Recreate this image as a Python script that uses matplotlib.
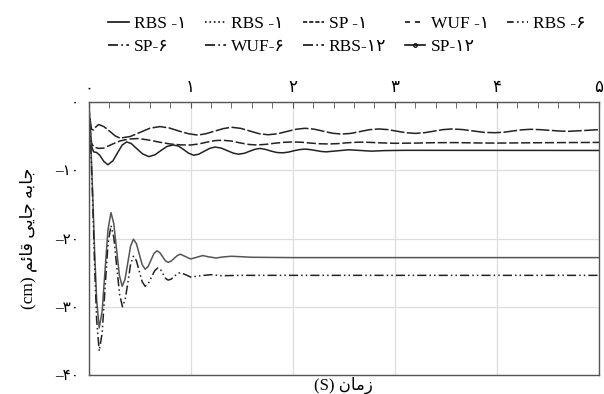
import matplotlib
matplotlib.use("Agg")
import matplotlib.pyplot as plt
from matplotlib.lines import Line2D
from matplotlib.ticker import MultipleLocator

plt.rcParams['font.family'] = ['Liberation Serif', 'DejaVu Sans']

# ---- data ----
t_wuf1 = [0, 0.015, 0.03, 0.05, 0.075, 0.1, 0.15, 0.205, 0.26, 0.31, 0.41, 0.505, 0.6, 0.70,
          0.79, 0.885, 0.98, 1.07, 1.15, 1.235, 1.32, 1.40, 1.49, 1.58, 1.67, 1.76, 1.85, 1.94,
          2.03, 2.12, 2.21, 2.30, 2.39, 2.48, 2.57, 2.66, 2.75, 2.84, 2.93, 3.02, 3.11, 3.2,
          3.29, 3.38, 3.47, 3.56, 3.665, 3.77, 3.875, 3.98, 4.07, 4.155, 4.24, 4.33, 4.42,
          4.515, 4.61, 4.7, 4.85, 5.0]
y_wuf1 = [0, -2.5, -4.0, -4.1, -3.6, -3.3, -3.6, -4.25, -4.95, -5.3, -5.05, -4.45, -3.85, -3.6,
          -3.8, -4.25, -4.65, -4.85, -4.65, -4.27, -3.9, -3.7, -3.86, -4.25, -4.64, -4.8, -4.66,
          -4.33, -4.0, -3.85, -3.98, -4.28, -4.58, -4.7, -4.6, -4.33, -4.06, -3.95, -4.04, -4.28,
          -4.5, -4.6, -4.5, -4.28, -4.05, -3.95, -4.04, -4.25, -4.45, -4.5, -4.43, -4.25, -4.08,
          -4.0, -4.05, -4.15, -4.25, -4.3, -4.18, -4.05]

t_sp1 = [0, 0.015, 0.03, 0.05, 0.1, 0.15, 0.23, 0.31, 0.4, 0.49, 0.6, 0.7, 0.8, 0.9, 1.0,
         1.08, 1.16, 1.24, 1.31, 1.4, 1.48, 1.57, 1.65, 1.74, 1.83, 1.92, 2.0, 2.09, 2.18,
         2.27, 2.35, 2.44, 2.53, 2.62, 2.7, 2.85, 3.0, 3.2, 3.4, 3.6, 3.8, 4.0, 4.3, 4.6, 5.0]
y_sp1 = [0, -3.5, -6.0, -6.6, -6.8, -6.75, -6.2, -5.7, -5.42, -5.35, -5.6, -5.9, -6.15, -6.28,
         -6.3, -6.15, -5.88, -5.66, -5.6, -5.72, -5.98, -6.22, -6.3, -6.2, -6.03, -5.9, -5.85,
         -5.9, -6.03, -6.12, -6.15, -6.1, -5.98, -5.9, -5.88, -5.98, -6.05, -6.02, -5.96,
         -5.95, -6.0, -6.02, -5.98, -5.95, -5.92]

t_rbs1 = [0, 0.015, 0.03, 0.05, 0.08, 0.11, 0.15, 0.19, 0.24, 0.29, 0.33, 0.375, 0.42, 0.47,
          0.53, 0.59, 0.65, 0.71, 0.77, 0.83, 0.88, 0.93, 0.98, 1.03, 1.08, 1.135, 1.19, 1.24,
          1.3, 1.36, 1.42, 1.47, 1.53, 1.58, 1.63, 1.68, 1.735, 1.79, 1.845, 1.9, 1.955, 2.01,
          2.065, 2.12, 2.175, 2.23, 2.28, 2.33, 2.44, 2.55, 2.66, 2.77, 2.9, 3.1, 5.0]
y_rbs1 = [0, -3.8, -6.5, -7.3, -7.4, -7.8, -8.7, -9.2, -8.6, -7.3, -6.3, -5.85, -6.1, -6.8,
          -7.6, -8.0, -7.75, -7.1, -6.5, -6.3, -6.45, -6.95, -7.5, -7.8, -7.65, -7.2, -6.78,
          -6.6, -6.75, -7.13, -7.5, -7.65, -7.5, -7.2, -6.93, -6.8, -6.95, -7.2, -7.4, -7.45,
          -7.35, -7.15, -6.98, -6.9, -6.98, -7.12, -7.25, -7.3, -7.15, -7.0, -7.1, -7.2, -7.12,
          -7.08, -7.1]

t_sp12 = [0, 0.02, 0.04, 0.06, 0.08, 0.105, 0.134, 0.162, 0.191, 0.22, 0.2475, 0.275, 0.3025,
          0.33, 0.3575, 0.385, 0.4125, 0.44, 0.469, 0.4975, 0.526, 0.555, 0.584, 0.6125, 0.641,
          0.67, 0.6975, 0.725, 0.7525, 0.78, 0.81, 0.84, 0.87, 0.9, 0.95, 1.0, 1.06, 1.12,
          1.18, 1.25, 1.32, 1.4, 1.6, 2.0, 5.0]
y_sp12 = [0, -5.0, -13.0, -22.0, -29.0, -33.1, -30.6, -24.65, -18.7, -16.2, -17.8, -21.6,
          -25.4, -27.0, -26.0, -23.55, -21.1, -20.1, -20.75, -22.3, -23.85, -24.5, -24.1,
          -23.15, -22.2, -21.8, -22.05, -22.65, -23.25, -23.5, -23.3, -22.9, -22.5, -22.3,
          -22.65, -23.0, -22.75, -22.5, -22.7, -22.85, -22.7, -22.6, -22.75, -22.8, -22.8]

t_rbs6 = [0, 0.02, 0.04, 0.06, 0.08, 0.105, 0.134, 0.162, 0.191, 0.22, 0.248, 0.276, 0.305,
          0.333, 0.36, 0.387, 0.413, 0.44, 0.469, 0.4975, 0.526, 0.555, 0.586, 0.6175, 0.649,
          0.68, 0.705, 0.73, 0.755, 0.78, 0.81, 0.84, 0.87, 0.9, 0.95, 1.0, 1.1, 1.2, 1.3,
          1.5, 5.0]
y_rbs6 = [0, -5.5, -14.0, -24.0, -32.0, -36.5, -33.8, -27.3, -20.8, -18.1, -19.85, -24.05,
          -28.25, -30.0, -28.9, -26.3, -23.7, -22.6, -23.25, -24.8, -26.35, -27.0, -26.6,
          -25.65, -24.7, -24.3, -24.55, -25.2, -25.85, -26.1, -25.95, -25.55, -25.15, -25.0,
          -25.3, -25.65, -25.45, -25.3, -25.45, -25.4, -25.4]

labels = ['RBS -\u06f1', 'RBS -\u06f1', 'SP -\u06f1', 'WUF -\u06f1', 'RBS -\u06f6',
          'SP-\u06f6', 'WUF-\u06f6', 'RBS-\u06f1\u06f2', 'SP-\u06f1\u06f2']

x_ticks = [0, 1, 2, 3, 4, 5]
x_ticklabels = ['\u06f0', '\u06f1', '\u06f2', '\u06f3', '\u06f4', '\u06f5']
y_ticks = [0, -10, -20, -30, -40]
y_ticklabels = ['\u06f0', '\u2013\u06f1\u06f0', '\u2013\u06f2\u06f0', '\u2013\u06f3\u06f0',
                '\u2013\u06f4\u06f0']

# pre-shaped (visual order) Persian axis titles
ylabel = '(cm) \ufee2\ufe8b\ufe8e\ufed7 \ufef0\ufef3\ufe8e\ufe9f \ufeea\ufe91\ufe8e\ufe9f'
xlabel = '(S) \ufee5\ufe8e\ufee3\ufeaf'

# ---- figure ----
fig = plt.figure(figsize=(6.04, 3.94), dpi=100)
ax = fig.add_axes([88.5 / 604, 1 - 375 / 394, (599 - 88.5) / 604, (375 - 102) / 394])

ax.plot(t_wuf1, y_wuf1, color='#222222', lw=1.1, dashes=(9, 1.6))
ax.plot(t_sp1, y_sp1, color='#222222', lw=1.1, dashes=(6, 1.8))
ax.plot(t_rbs1, y_rbs1, color='#222222', lw=1.1)
ax.plot(t_sp12, y_sp12, color='#555555', lw=1.1)
ax.plot(t_rbs6, y_rbs6, color='#222222', lw=1.1, dashes=(6, 2, 1, 2, 1, 2))

ax.set_xlim(0, 5)
ax.set_ylim(-40, 0)
ax.xaxis.tick_top()
ax.set_xticks(x_ticks)
ax.set_xticklabels(x_ticklabels, fontsize=12)
ax.xaxis.set_minor_locator(MultipleLocator(0.2))
ax.tick_params(axis='x', which='both', direction='in', length=4, color='#555555', pad=4)
ax.set_yticks(y_ticks)
ax.set_yticklabels(y_ticklabels, fontsize=11)
ax.tick_params(axis='y', length=0, pad=7)
ax.grid(True, which='major', color='#dddddd', lw=0.9)
for s in ax.spines.values():
    s.set_color('#555555')
    s.set_linewidth(1.0)

ax.set_ylabel(ylabel, fontsize=12.5, labelpad=13)
ax.set_xlabel(xlabel, fontsize=12, labelpad=1)

# legend
styles = [dict(ls='-'), dict(ls=':'), dict(dashes=(2.5, 1.2)), dict(dashes=(3, 3)),
          dict(dashes=(4, 2, 1, 2, 1, 2)), dict(dashes=(6, 2, 1, 2)), dict(dashes=(6, 2, 1, 2)),
          dict(dashes=(6, 2, 1, 2)), dict(ls='-', marker='o', markersize=2.5,
                                          markevery=[0], fillstyle='none')]
handles = [Line2D([0, 1], [0, 0], color='#111111', lw=1.2, **st) for st in styles]
order = [0, 5, 1, 6, 2, 7, 3, 8, 4]
fig.legend([handles[i] for i in order], [labels[i] for i in order], ncol=5,
           loc='upper left', bbox_to_anchor=(101 / 604, 1 - 9 / 394), frameon=False,
           fontsize=12.5, handlelength=1.2, handletextpad=0.3, columnspacing=1.05,
           labelspacing=0.4, borderaxespad=0)

fig.savefig('out.png', dpi=100)
